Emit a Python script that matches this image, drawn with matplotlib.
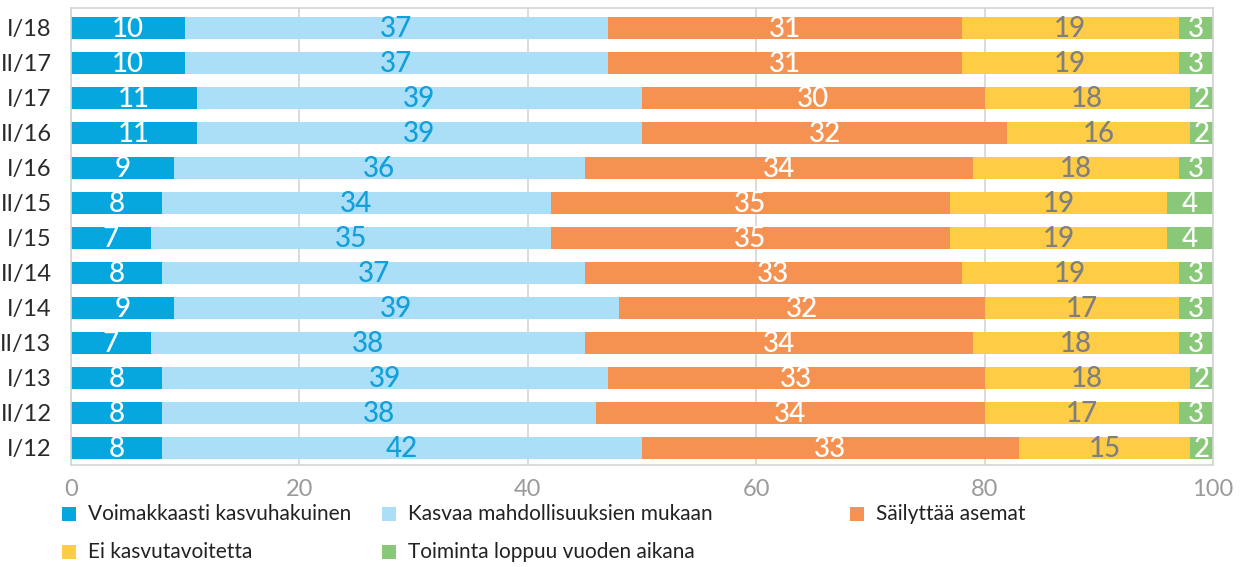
import matplotlib
matplotlib.use("Agg")
import matplotlib.pyplot as plt
from matplotlib.patches import Rectangle

plt.rcParams['font.family'] = ['Lato', 'DejaVu Sans']

categories = ["I/18", "II/17", "I/17", "II/16", "I/16", "II/15", "I/15",
              "II/14", "I/14", "II/13", "I/13", "II/12", "I/12"]
series_names = ["Voimakkaasti kasvuhakuinen", "Kasvaa mahdollisuuksien mukaan",
                "Säilyttää asemat", "Ei kasvutavoitetta", "Toiminta loppuu vuoden aikana"]
voimakkaasti = [10, 10, 11, 11, 9, 8, 7, 8, 9, 7, 8, 8, 8]
kasvaa = [37, 37, 39, 39, 36, 34, 35, 37, 39, 38, 39, 38, 42]
sailyttaa = [31, 31, 30, 32, 34, 35, 35, 33, 32, 34, 33, 34, 33]
ei_kasvu = [19, 19, 18, 16, 18, 19, 19, 19, 17, 18, 18, 17, 15]
loppuu = [3, 3, 2, 2, 3, 4, 4, 3, 3, 3, 2, 3, 2]
x_ticks = [0, 20, 40, 60, 80, 100]

series = [voimakkaasti, kasvaa, sailyttaa, ei_kasvu, loppuu]
colors = ["#06a6df", "#abdff8", "#f59252", "#ffcd45", "#89c878"]
label_colors = ["white", "#139fd9", "white", "#7f7f7f", "white"]

W, H = 1243, 567
fig = plt.figure(figsize=(W / 100, H / 100), dpi=100)
ax = fig.add_axes([0.0571, 0.18, 0.9188, 0.806])

ypos = list(range(len(categories)))
left = [0.0] * len(categories)
for vals, col, lc, name in zip(series, colors, label_colors, series_names):
    ax.barh(ypos, vals, left=left, height=0.63, color=col, label=name, zorder=2)
    for y, v, l in zip(ypos, vals, left):
        ax.text(l + v / 2, y + 0.04, str(v), ha="center", va="center",
                color=lc, fontsize=20, fontweight="medium", zorder=3)
    left = [a + b for a, b in zip(left, vals)]

ax.set_xlim(0, 100)
ax.set_ylim(12.49, -0.57)
ax.set_yticks(ypos)
ax.set_yticklabels(categories, fontsize=17, color="#2a2a2a")
ax.set_xticks(x_ticks)
ax.set_xticklabels([str(t) for t in x_ticks], fontsize=17, color="#9a9a9a")
ax.tick_params(axis="both", length=0)
ax.tick_params(axis="y", pad=14)
ax.tick_params(axis="x", pad=10)
ax.grid(axis="x", color="#d4d4d4", linewidth=1.2, zorder=0)
for s in ax.spines.values():
    s.set_color("#d4d4d4")
    s.set_linewidth(1.2)

# Legend (row-major, placed in pixel coordinates)
leg_pos = [(62, 514), (382, 514), (850, 514), (62, 552), (382, 552)]
sq = 14
for (px, py), col, name in zip(leg_pos, colors, series_names):
    fig.patches.append(Rectangle((px / W, (H - py - sq / 2) / H), sq / W, sq / H,
                                 transform=fig.transFigure, facecolor=col,
                                 edgecolor="none"))
    fig.text((px + sq + 12) / W, (H - py) / H, name, ha="left", va="center",
             fontsize=15, color="#222222")

fig.savefig("out.png", dpi=100)
